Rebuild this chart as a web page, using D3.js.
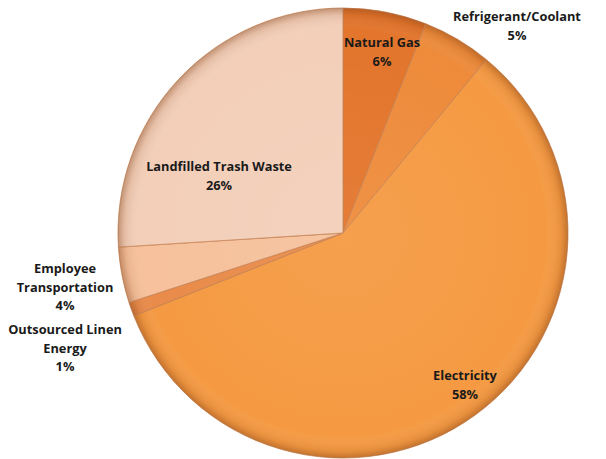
<!DOCTYPE html>
<html>
<head>
<meta charset="utf-8">
<script src="https://cdn.jsdelivr.net/npm/d3@7"></script>
<style>
  body { margin: 0; background: #fff; }
  text { font-family: "Open Sans", "Noto Sans", sans-serif; font-weight: bold; font-size: 12.8px; fill: #1a1a1a; }
</style>
</head>
<body>
<svg width="606" height="459"></svg>
<script>
var categories = ["Natural Gas", "Refrigerant/Coolant", "Electricity", "Outsourced Linen Energy", "Employee Transportation", "Landfilled Trash Waste"];
var values = [6, 5, 58, 1, 4, 26];
var labelLines = [["Natural Gas"], ["Refrigerant/Coolant"], ["Electricity"], ["Outsourced Linen", "Energy"], ["Employee", "Transportation"], ["Landfilled Trash Waste"]];
var colors = ["#e3752c", "#ee8b3b", "#f59a43", "#e98b4a", "#f6c19c", "#f3cfb9"];

// label anchors relative to the pie centre (layout only)
var labelOffsets = [[39, -186], [174, -212], [122, 147], [-278, 101], [-278, 40], [-124, -62]];

var svg = d3.select("svg"),
    cx = 343, cy = 233,
    radius = 225,
    g = svg.append("g").attr("transform", "translate(" + cx + "," + cy + ")");

var data = categories.map(function(c, i) {
    return { name: c, value: values[i], lines: labelLines[i], color: colors[i], off: labelOffsets[i] };
});

var defs = svg.append("defs");
var rg = defs.append("radialGradient").attr("id", "shade")
    .attr("cx", 0).attr("cy", 0).attr("r", radius).attr("gradientUnits", "userSpaceOnUse");
rg.append("stop").attr("offset", "0%").attr("stop-color", "#fff").attr("stop-opacity", 0.06);
rg.append("stop").attr("offset", "90%").attr("stop-color", "#fff").attr("stop-opacity", 0);
rg.append("stop").attr("offset", "97%").attr("stop-color", "#7a3a10").attr("stop-opacity", 0.12);
rg.append("stop").attr("offset", "100%").attr("stop-color", "#7a3a10").attr("stop-opacity", 0.4);

var pie = d3.pie()
    .sort(null)
    .value(function(d) { return d.value; });

var path = d3.arc()
    .outerRadius(radius)
    .innerRadius(0);

var arcs = pie(data);

var arc = g.selectAll(".arc")
    .data(arcs)
    .enter().append("g")
    .attr("class", "arc");

arc.append("path")
    .attr("d", path)
    .attr("fill", function(d) { return d.data.color; })
    .attr("stroke", "#b8642a")
    .attr("stroke-opacity", 0.7)
    .attr("stroke-width", 1);

arc.append("path")
    .attr("d", path)
    .attr("fill", "url(#shade)")
    .attr("stroke", "#fff")
    .attr("stroke-opacity", 0.25)
    .attr("stroke-width", 0.6);

var lab = g.selectAll(".lab")
    .data(arcs)
    .enter().append("text")
    .attr("class", "lab")
    .attr("text-anchor", "middle")
    .attr("transform", function(d) { return "translate(" + d.data.off[0] + "," + d.data.off[1] + ")"; });

lab.each(function(d) {
    var t = d3.select(this);
    var lines = d.data.lines.concat([d.data.value + "%"]);
    lines.forEach(function(l, i) {
        t.append("tspan").attr("x", 0).attr("dy", i === 0 ? 0 : 18.5).text(l);
    });
});
</script>
</body>
</html>
